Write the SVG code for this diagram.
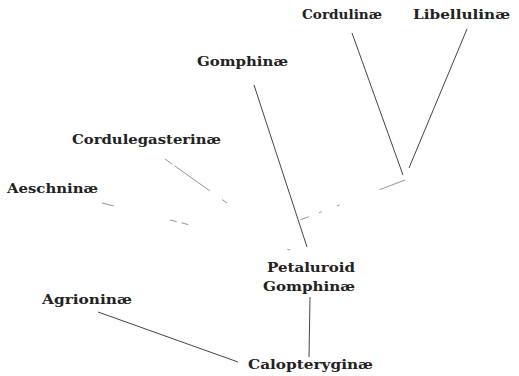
<svg xmlns="http://www.w3.org/2000/svg" width="519" height="376" viewBox="0 0 519 376">
<style>
  text { font-family: "DejaVu Serif", "Liberation Serif", serif; font-size: 13.5px; font-weight: bold; fill: #222; }
  .ln { stroke: #444; stroke-width: 1; fill: none; }
  .faint { stroke: #888; stroke-width: 0.9; fill: none; }
</style>
<rect width="519" height="376" fill="#ffffff"/>
<g id="connectors">
  <line class="ln" x1="352" y1="33" x2="403" y2="175"/>
  <line class="ln" x1="467" y1="29" x2="409" y2="168"/>
  <line class="faint" x1="405" y1="180" x2="300" y2="220" style="stroke-dasharray:27 43 3 16 3 11 9 10"/>
  <line class="ln" x1="254" y1="85" x2="307" y2="247"/>
  <line class="faint" x1="165" y1="159" x2="227" y2="203" style="stroke-dasharray:9 3 43 15 6 10"/>
  <line class="faint" x1="102" y1="203" x2="290" y2="250" style="stroke-dasharray:12 58 7 5 7 102 4 10"/>
  <line class="ln" x1="310" y1="297" x2="309" y2="357"/>
  <line class="ln" x1="98" y1="312" x2="238" y2="362"/>
</g>
<g id="cordulinae"><text x="302" y="19" textLength="80" lengthAdjust="spacingAndGlyphs">Cordulinæ</text></g>
<g id="libellulinae"><text x="413" y="19" textLength="97" lengthAdjust="spacingAndGlyphs">Libellulinæ</text></g>
<g id="gomphinae"><text x="197" y="66" textLength="91" lengthAdjust="spacingAndGlyphs">Gomphinæ</text></g>
<g id="cordulegasterinae"><text x="72" y="144" textLength="149" lengthAdjust="spacingAndGlyphs">Cordulegasterinæ</text></g>
<g id="aeschninae"><text x="7" y="193" textLength="91" lengthAdjust="spacingAndGlyphs">Aeschninæ</text></g>
<g id="petaluroid-gomphinae">
  <text x="267" y="272" textLength="88" lengthAdjust="spacingAndGlyphs">Petaluroid</text>
  <text x="263" y="291" textLength="92" lengthAdjust="spacingAndGlyphs">Gomphinæ</text>
</g>
<g id="agrioninae"><text x="42" y="304" textLength="90" lengthAdjust="spacingAndGlyphs">Agrioninæ</text></g>
<g id="calopteryginae"><text x="248" y="369" textLength="125" lengthAdjust="spacingAndGlyphs">Calopteryginæ</text></g>
</svg>
